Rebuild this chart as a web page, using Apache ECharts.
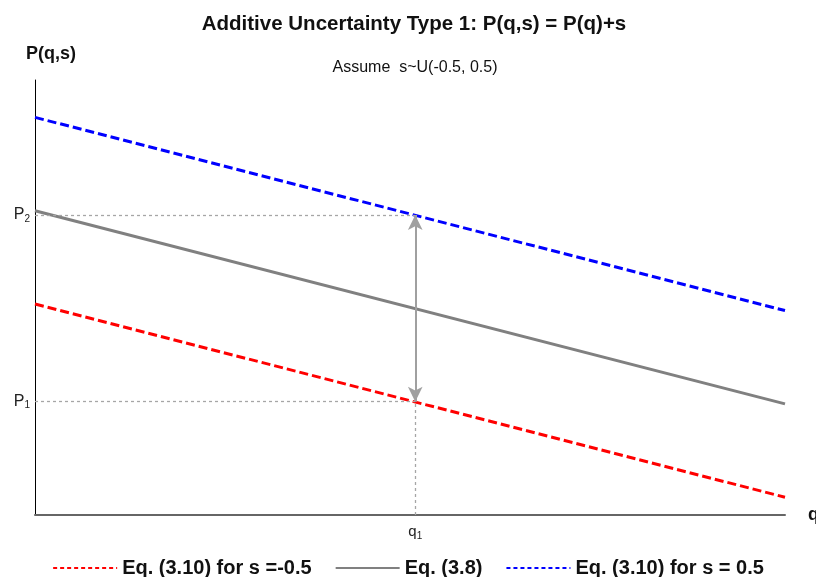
<!DOCTYPE html>
<html>
<head>
<meta charset="utf-8">
<title>Additive Uncertainty Type 1</title>
<script src="https://cdn.jsdelivr.net/npm/echarts@6/dist/echarts.min.js"></script>
<style>
    html, body { margin: 0; padding: 0; background: #ffffff; }
    #chart { width: 816px; height: 577px; }
</style>
</head>
<body>
<div id="chart"></div>
<script>
// Demand lines P(q,s) = P(q) + s
const qPoints = [0, 10];
const lowPrice = [1.13, 0.095];   // s = -0.5
const basePrice = [1.63, 0.595];  // Eq. (3.8)
const highPrice = [2.13, 1.095];  // s = 0.5

const seriesNames = ['Eq. (3.10) for s =-0.5', 'Eq. (3.8)', 'Eq. (3.10) for s = 0.5'];

// marked quantity and the two prices at it
const qMark = 5.07;
const pLow = 0.607;
const pHigh = 1.607;

const font = 'Liberation Sans, Arial, Helvetica, sans-serif';

function toPairs(values) {
    return qPoints.map((q, i) => [q, values[i]]);
}

const chart = echarts.init(document.getElementById('chart'), null, { renderer: 'canvas' });

const guideStyle = { color: '#a6a6a6', width: 1.3, type: [3, 3] };

const option = {
    backgroundColor: '#ffffff',
    animation: false,
    title: [
        {
            text: 'Additive Uncertainty Type 1: P(q,s) = P(q)+s',
            left: 409,
            top: 9,
            textAlign: 'center',
            textStyle: { fontFamily: font, fontSize: 20.5, fontWeight: 'bold', color: '#111' }
        },
        {
            text: 'Assume  s~U(-0.5, 0.5)',
            left: 410,
            top: 55,
            textAlign: 'center',
            textStyle: { fontFamily: font, fontSize: 16, fontWeight: 'normal', color: '#111' }
        },
        {
            text: 'P(q,s)',
            left: 21,
            top: 40,
            textStyle: { fontFamily: font, fontSize: 18, fontWeight: 'bold', color: '#111' }
        }
    ],
    grid: { left: 35, right: 31, top: 80, bottom: 62, outerBoundsMode: 'none' },
    legend: {
        left: 'center',
        top: 553,
        itemWidth: 64,
        itemHeight: 20,
        itemGap: 23,
        textStyle: { fontFamily: font, fontSize: 20, fontWeight: 'bold', color: '#111' },
        data: [
            { name: seriesNames[0], itemStyle: { opacity: 0 }, lineStyle: { color: '#ff0000', width: 2, type: [4, 3] } },
            { name: seriesNames[1], itemStyle: { opacity: 0 }, lineStyle: { color: '#808080', width: 2, type: 'solid' } },
            { name: seriesNames[2], itemStyle: { opacity: 0 }, lineStyle: { color: '#0000ff', width: 2, type: [4, 3] } }
        ]
    },
    xAxis: {
        type: 'value',
        min: 0,
        max: 10,
        name: 'q',
        nameLocation: 'end',
        nameGap: 23,
        nameTextStyle: { fontFamily: font, fontSize: 18, fontWeight: 'bold', color: '#111', verticalAlign: 'middle' },
        axisLine: { lineStyle: { color: '#666666', width: 2 } },
        axisTick: { show: false },
        splitLine: { show: false },
        axisLabel: {
            customValues: [qMark],
            margin: 8,
            formatter: () => '{p|q}{s|1}',
            rich: {
                p: { fontFamily: font, fontSize: 15, color: '#222', lineHeight: 18 },
                s: { fontFamily: font, fontSize: 10, color: '#222', lineHeight: 12, verticalAlign: 'bottom' }
            }
        }
    },
    yAxis: {
        type: 'value',
        min: 0,
        max: 2.33,
        axisLine: { show: true, lineStyle: { color: '#000000', width: 1 } },
        axisTick: { show: false },
        splitLine: { show: false },
        axisLabel: {
            customValues: [pLow, pHigh],
            margin: 5,
            formatter: (v) => Math.abs(v - pLow) < 1e-6 ? '{p|P}{s|1}' : '{p|P}{s|2}',
            rich: {
                p: { fontFamily: font, fontSize: 16, color: '#222', lineHeight: 18 },
                s: { fontFamily: font, fontSize: 10, color: '#222', lineHeight: 12, verticalAlign: 'bottom' }
            }
        }
    },
    series: [
        {
            // guide lines and the price spread arrow
            type: 'line',
            name: 'guides',
            data: [],
            z: 1,
            silent: true,
            markLine: {
                silent: true,
                symbol: ['none', 'none'],
                label: { show: false },
                lineStyle: guideStyle,
                data: [
                    [{ coord: [0, pHigh] }, { coord: [qMark, pHigh] }],
                    [{ coord: [0, pLow] }, { coord: [qMark, pLow] }],
                    [{ coord: [qMark, 0] }, { coord: [qMark, pLow] }],
                    [
                        { coord: [qMark, pLow], symbol: 'arrow', symbolSize: [11, 15] },
                        {
                            coord: [qMark, pHigh], symbol: 'arrow', symbolSize: [11, 15],
                            lineStyle: { color: '#a0a0a0', width: 2, type: 'solid' }
                        }
                    ]
                ]
            }
        },
        {
            type: 'line',
            name: seriesNames[0],
            data: toPairs(lowPrice),
            showSymbol: false,
            symbol: 'none',
            z: 3,
            lineStyle: { color: '#ff0000', width: 3, type: [9, 4] },
            itemStyle: { color: '#ff0000' }
        },
        {
            type: 'line',
            name: seriesNames[1],
            data: toPairs(basePrice),
            showSymbol: false,
            symbol: 'none',
            z: 3,
            lineStyle: { color: '#808080', width: 3, type: 'solid' },
            itemStyle: { color: '#808080' }
        },
        {
            type: 'line',
            name: seriesNames[2],
            data: toPairs(highPrice),
            showSymbol: false,
            symbol: 'none',
            z: 3,
            lineStyle: { color: '#0000ff', width: 3, type: [9, 4] },
            itemStyle: { color: '#0000ff' }
        }
    ]
};

chart.setOption(option);
</script>
</body>
</html>
